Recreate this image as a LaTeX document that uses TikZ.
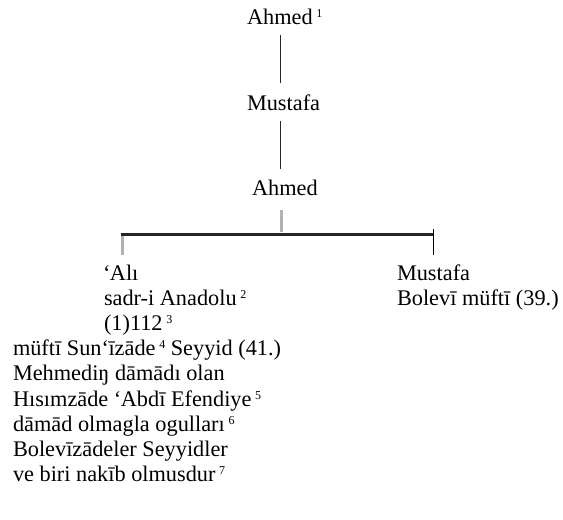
\documentclass[tikz,border=0pt]{standalone}
\usepackage{fontspec}
\setmainfont{Liberation Serif}
\usetikzlibrary{calc}
% raised footnote number
\newcommand\fnmark[1]{\,\raisebox{7pt}{\fontsize{12pt}{12pt}\selectfont #1}}
% ayn sign
\newcommand\ayn{‘\kern-0.5pt}
\begin{document}
\begin{tikzpicture}[x=1pt,y=1pt,
  person/.style={inner xsep=0pt, inner ysep=11pt, outer sep=0pt, anchor=base west,
    font=\fontsize{22.3pt}{25pt}\selectfont},
  textline/.style={inner sep=0pt, outer sep=0pt, anchor=base west,
    font=\fontsize{22.3pt}{25pt}\selectfont},
  kin/.style={line width=1.1pt, black!85},
  bar/.style={line width=2.8pt, black!85},
  faint/.style={line width=3pt, black!30},
  drop/.style={line width=0.9pt, black}]
\useasboundingbox (0,0) rectangle (563,-520);

% upper line of descent
\node[person] (a1) at (247,-24) {Ahmed\fnmark{1}};
\node[person] (m1) at (247,-110) {Mustafa};
\node[person] (a2) at (252,-195) {Ahmed};
\coordinate (trunk) at (280.5,0);
\draw[kin] (a1.south -| trunk) -- (m1.north -| trunk);
\draw[kin] (m1.south -| trunk) -- (a2.north -| trunk);

% family bar
\coordinate (barL) at (121,-234.5);
\coordinate (barR) at (434,-234.5);
\coordinate (stub) at (281,0);
\draw[faint] ([yshift=-4pt]a2.south -| stub) -- ([yshift=3pt]barL -| stub);
\draw[bar] (barL) -- (barR);

% first son
\node[textline] (ali)  at (103,-280)   {\ayn Alı};
\node[textline] (ali2) at (104,-305.2) {sadr-i Anadolu\fnmark{2}};
\node[textline] (ali3) at (104,-330.4) {(1)112\fnmark{3}};
\node[textline] (n1) at (13,-355.6) {müftī Sun\ayn īzāde\fnmark{4} Seyyid (41.)};
\node[textline] (n2) at (13,-380.8) {Mehmediŋ dāmādı olan};
\node[textline] (n3) at (13,-406)   {Hısımzāde \ayn Abdī Efendiye\fnmark{5}};
\node[textline] (n4) at (13,-431.2) {dāmād olmagla ogulları\fnmark{6}};
\node[textline] (n5) at (13,-456.4) {Bolevīzādeler Seyyidler};
\node[textline] (n6) at (13,-481.6) {ve biri nakīb olmusdur\fnmark{7}};
\coordinate (dropL) at (122,-236);
\draw[faint] (dropL) -- ([yshift=10pt]ali.north -| dropL);

% second son
\node[textline] (mu)  at (397,-280)   {Mustafa};
\node[textline] (mu2) at (397,-305.2) {Bolevī müftī (39.)};
\coordinate (dropR) at (433.5,-229);
\draw[drop] (dropR) -- ([yshift=9pt]mu.north -| dropR);
\end{tikzpicture}
\end{document}
